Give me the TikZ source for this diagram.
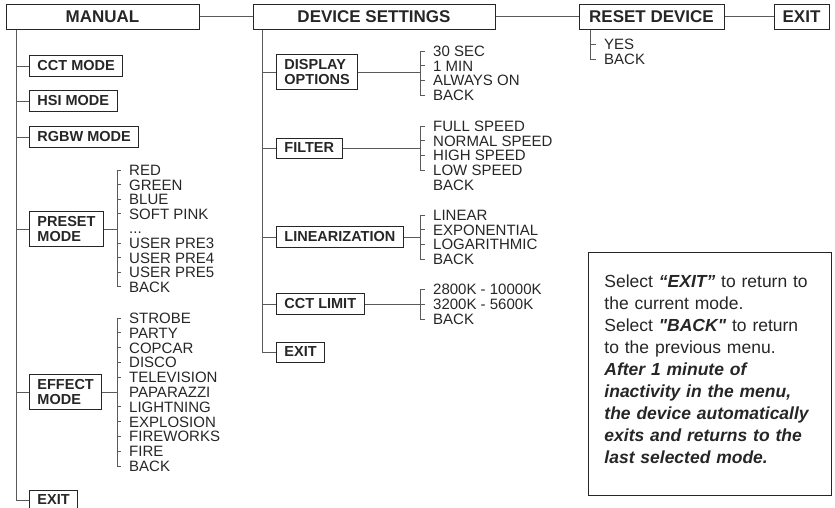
\documentclass[tikz,border=0pt]{standalone}
\usepackage{fontspec}
\setmainfont{Liberation Sans}
\usepackage{xcolor}
\usetikzlibrary{positioning}

\definecolor{inkc}{HTML}{262626}
\definecolor{linec}{HTML}{5A5A5A}
\newcommand{\ellipdots}{...}

\begin{document}
\begin{tikzpicture}[x=1pt, y=-1pt,
  tbox/.style={draw=inkc, line width=1pt, inner sep=0pt, minimum height=25pt,
               font=\fontsize{17}{17}\selectfont\bfseries, text=inkc},
  mbox/.style={draw=inkc, line width=0.9pt, anchor=west, align=left,
               inner xsep=8pt, inner ysep=5pt, minimum height=20pt,
               font=\fontsize{14.5}{15.5}\selectfont\bfseries, text=inkc},
  itm/.style={anchor=west, inner sep=0pt, text height=10.8pt, text depth=0pt,
              font=\fontsize{15}{15}\selectfont, text=inkc},
  ln/.style={draw=linec, line width=0.9pt},
  notebox/.style={draw=inkc, line width=0.9pt, anchor=north west, align=left,
                  text width=211pt, inner xsep=16pt, inner ysep=0pt,
                  minimum height=243pt,
                  font=\fontsize{17.5}{22}\selectfont, text=inkc},
]
\useasboundingbox (0,0) rectangle (835,507);

% --- Top menu row ---
\node[tbox, minimum width=193pt] (manual) at (102.5,16.5) {MANUAL};
\node[tbox, minimum width=242pt] (devset) at (374,16.5) {DEVICE SETTINGS};
\node[tbox, minimum width=145pt] (reset)  at (651.5,16.5) {RESET DEVICE};
\node[tbox, minimum width=55pt]  (exitT)  at (801.5,16.5) {EXIT};

\draw[ln] (manual.east) -- (devset.west);
\draw[ln] (devset.east) -- (reset.west);
\draw[ln] (reset.east) -- (exitT.west);

% --- MANUAL sub-menu ---
\coordinate (trM) at ([xshift=11pt]manual.south west);
\node[mbox] (cct)    at (29,66)  {CCT MODE};
\node[mbox] (hsi)    at (29,101) {HSI MODE};
\node[mbox] (rgbw)   at (29,137) {RGBW MODE};
\node[mbox] (preset) at (29,229) {PRESET\\MODE};
\node[mbox] (effect) at (29,392) {EFFECT\\MODE};
\node[mbox] (exitM)  at (29,500) {EXIT};

\draw[ln] (trM) |- (exitM.west);
\foreach \n in {cct,hsi,rgbw,preset,effect}
  \draw[ln] (\n.west) -- (\n.west -| trM);

% preset list
\coordinate (brP) at (117,229);
\foreach \t [count=\i] in {RED,GREEN,BLUE,SOFT PINK,\ellipdots,USER PRE3,USER PRE4,USER PRE5,BACK}
  \node[itm] (pm\i) at (129,{155.4+14.6*\i}) {\t};
\draw[ln] (preset.east) -- (brP);
\draw[ln] ([xshift=-8pt]pm1.west) -| (pm9.west -| brP) -- ([xshift=-8pt]pm9.west);
\foreach \i in {2,3,4,6,7,8}
  \draw[ln] (pm\i.west -| brP) -- ([xshift=-8pt]pm\i.west);

% effect list
\coordinate (brE) at (117,392);
\foreach \t [count=\i] in {STROBE,PARTY,COPCAR,DISCO,TELEVISION,PAPARAZZI,LIGHTNING,EXPLOSION,FIREWORKS,FIRE,BACK}
  \node[itm] (em\i) at (129,{303.2+14.8*\i}) {\t};
\draw[ln] (effect.east) -- (brE);
\draw[ln] ([xshift=-8pt]em1.west) -| (em11.west -| brE) -- ([xshift=-8pt]em11.west);
\foreach \i in {2,3,4,5,7,8,9,10}
  \draw[ln] (em\i.west -| brE) -- ([xshift=-8pt]em\i.west);

% --- DEVICE SETTINGS sub-menu ---
\coordinate (trD) at ([xshift=10pt]devset.south west);
\node[mbox] (disp)  at (276,72)  {DISPLAY\\OPTIONS};
\node[mbox] (filt)  at (276,148) {FILTER};
\node[mbox] (lin)   at (276,237) {LINEARIZATION};
\node[mbox] (cctl)  at (276,304) {CCT LIMIT};
\node[mbox] (exitD) at (276,352) {EXIT};

\draw[ln] (trD) |- (exitD.west);
\foreach \n in {disp,filt,lin,cctl}
  \draw[ln] (\n.west) -- (\n.west -| trD);

% display options
\coordinate (brD) at (420,72);
\foreach \t [count=\i] in {30 SEC,1 MIN,ALWAYS ON,BACK}
  \node[itm] (do\i) at (433,{36.3+14.7*\i}) {\t};
\draw[ln] (disp.east) -- (brD);
\draw[ln] ([xshift=-8pt]do1.west) -| (do4.west -| brD) -- ([xshift=-8pt]do4.west);
\foreach \i in {2,3}
  \draw[ln] (do\i.west -| brD) -- ([xshift=-8pt]do\i.west);

% filter
\coordinate (brF) at (420,148);
\foreach \t [count=\i] in {FULL SPEED,NORMAL SPEED,HIGH SPEED,LOW SPEED,BACK}
  \node[itm] (fs\i) at (433,{111.2+14.75*\i}) {\t};
\draw[ln] (filt.east) -- (brF);
\draw[ln] ([xshift=-8pt]fs1.west) -| (fs4.west -| brF) -- ([xshift=-8pt]fs4.west);
\foreach \i in {2,3}
  \draw[ln] (fs\i.west -| brF) -- ([xshift=-8pt]fs\i.west);

% linearization
\coordinate (brL) at (420,237);
\foreach \t [count=\i] in {LINEAR,EXPONENTIAL,LOGARITHMIC,BACK}
  \node[itm] (li\i) at (433,{200.3+14.7*\i}) {\t};
\draw[ln] (lin.east) -- (brL);
\draw[ln] ([xshift=-8pt]li1.west) -| (li4.west -| brL) -- ([xshift=-8pt]li4.west);
\foreach \i in {2,3}
  \draw[ln] (li\i.west -| brL) -- ([xshift=-8pt]li\i.west);

% cct limit
\coordinate (brC) at (420,304);
\foreach \t [count=\i] in {2800K - 10000K,3200K - 5600K,BACK}
  \node[itm] (cl\i) at (433,{274+15*\i}) {\t};
\draw[ln] (cctl.east) -- (brC);
\draw[ln] ([xshift=-8pt]cl1.west) -| (cl3.west -| brC) -- ([xshift=-8pt]cl3.west);
\draw[ln] (cl2.west -| brC) -- ([xshift=-8pt]cl2.west);

% --- RESET DEVICE sub-menu ---
\coordinate (trR) at ([xshift=12pt]reset.south west);
\node[itm] (rs1) at (604,44) {YES};
\node[itm] (rs2) at (604,59) {BACK};
\draw[ln] (trR) |- ([xshift=-8pt]rs2.west);
\draw[ln] (rs1.west -| trR) -- ([xshift=-8pt]rs1.west);

% --- Note ---
\node[notebox] (note) at (588,252) {%
  Select \textbf{\textit{“EXIT”}} to return to\\
  the current mode.\\
  Select \textbf{\textit{\textquotedbl BACK\textquotedbl}} to return\\
  to the previous menu.\\
  \textbf{\textit{After 1 minute of}}\\
  \textbf{\textit{inactivity in the menu,}}\\
  \textbf{\textit{the device automatically}}\\
  \textbf{\textit{exits and returns to the}}\\
  \textbf{\textit{last selected mode.}}\\[-12pt]\mbox{}};
\end{tikzpicture}
\end{document}
